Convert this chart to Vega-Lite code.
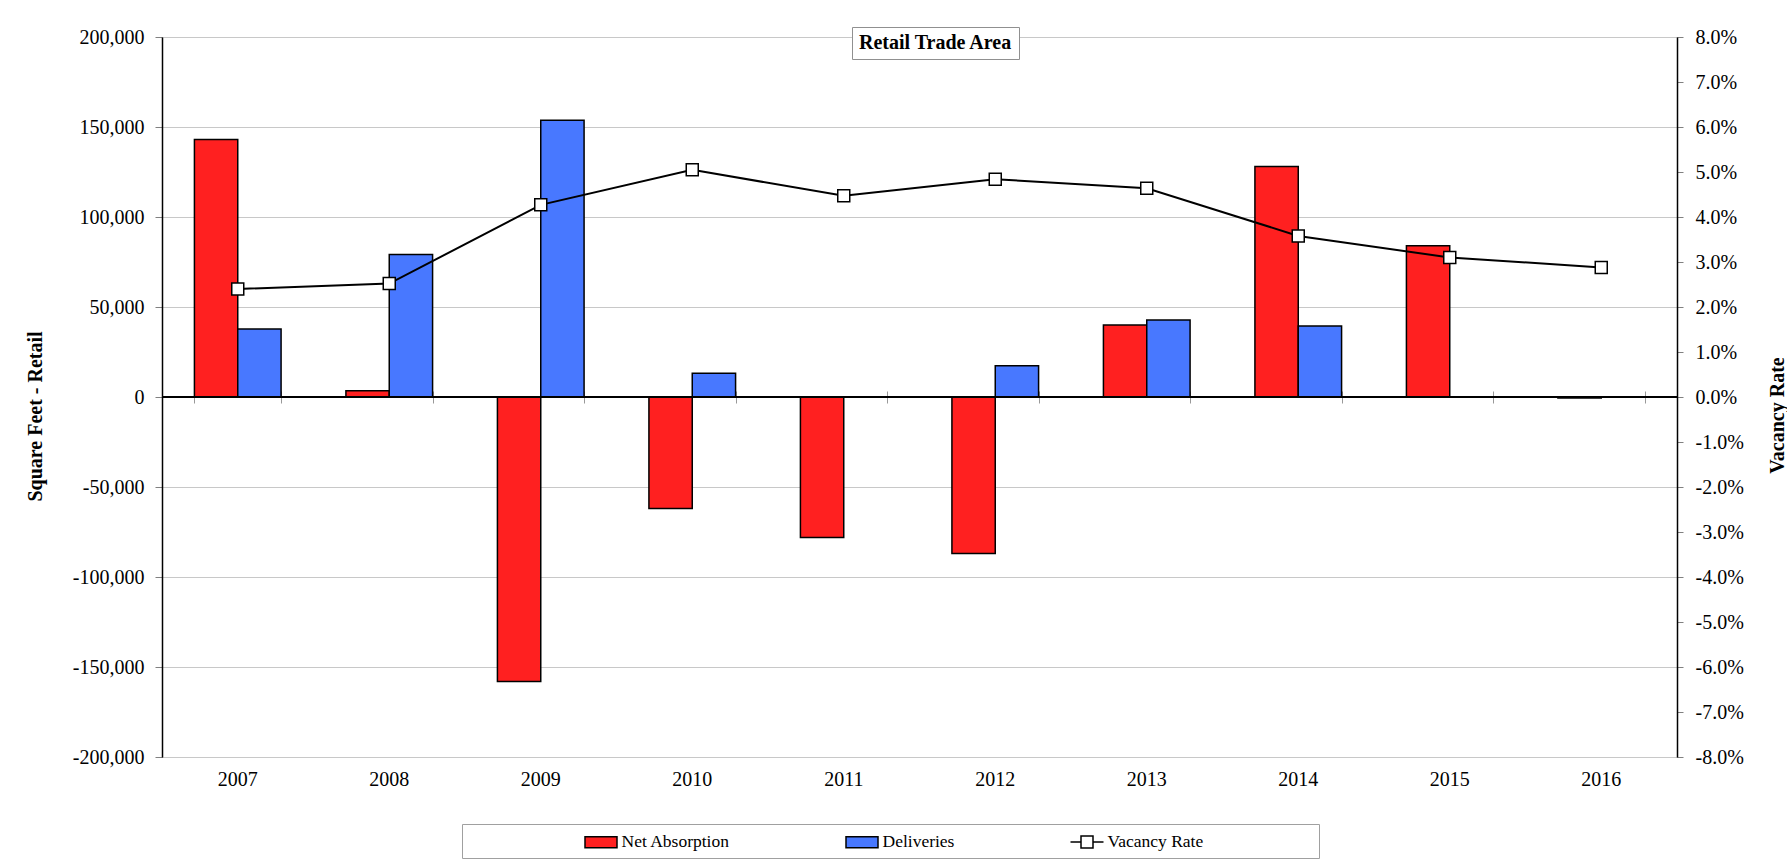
{
  "$schema": "https://vega.github.io/schema/vega-lite/v6.json",
  "width": 1515,
  "height": 720,
  "autosize": {"type": "none"},
  "padding": {"left": 162, "top": 37, "right": 110, "bottom": 111},
  "background": "white",
  "config": {
    "font": "Liberation Serif",
    "locale": {"number": {"decimal": ".", "thousands": ",", "grouping": [3], "currency": ["$", ""], "minus": "-"}},
    "view": {"stroke": "#808080", "strokeWidth": 1},
    "axis": {
      "labelFont": "Liberation Serif",
      "titleFont": "Liberation Serif",
      "labelColor": "black",
      "titleColor": "black",
      "labelFontSize": 20,
      "titleFontSize": 20,
      "titleFontWeight": "bold"
    }
  },
  "datasets": {
    "bars": [
      {"year": "2007", "series": "Net Absorption", "value": 143000},
      {"year": "2007", "series": "Deliveries", "value": 37800},
      {"year": "2008", "series": "Net Absorption", "value": 3500},
      {"year": "2008", "series": "Deliveries", "value": 79100},
      {"year": "2009", "series": "Net Absorption", "value": -158000},
      {"year": "2009", "series": "Deliveries", "value": 153800},
      {"year": "2010", "series": "Net Absorption", "value": -62000},
      {"year": "2010", "series": "Deliveries", "value": 13200},
      {"year": "2011", "series": "Net Absorption", "value": -78000},
      {"year": "2011", "series": "Deliveries", "value": 0},
      {"year": "2012", "series": "Net Absorption", "value": -87000},
      {"year": "2012", "series": "Deliveries", "value": 17300},
      {"year": "2013", "series": "Net Absorption", "value": 40000},
      {"year": "2013", "series": "Deliveries", "value": 42800},
      {"year": "2014", "series": "Net Absorption", "value": 128000},
      {"year": "2014", "series": "Deliveries", "value": 39500},
      {"year": "2015", "series": "Net Absorption", "value": 84000},
      {"year": "2015", "series": "Deliveries", "value": 0},
      {"year": "2016", "series": "Net Absorption", "value": -500},
      {"year": "2016", "series": "Deliveries", "value": 0}
    ],
    "vac": [
      {"year": "2007", "rate": 0.0240},
      {"year": "2008", "rate": 0.0252},
      {"year": "2009", "rate": 0.0427},
      {"year": "2010", "rate": 0.0505},
      {"year": "2011", "rate": 0.0447},
      {"year": "2012", "rate": 0.0484},
      {"year": "2013", "rate": 0.0464},
      {"year": "2014", "rate": 0.0358},
      {"year": "2015", "rate": 0.0310},
      {"year": "2016", "rate": 0.0288}
    ]
  },
  "resolve": {"scale": {"y": "independent"}, "axis": {"x": "independent"}},
  "layer": [
    {
      "data": {"name": "bars"},
      "layer": [
        {
          "mark": {"type": "bar", "stroke": "black", "strokeWidth": 1.5},
          "encoding": {
            "x": {
              "field": "year",
              "type": "nominal",
              "scale": {"type": "band", "paddingInner": 0.428, "paddingOuter": 0.214},
              "axis": {
                "orient": "bottom",
                "title": null,
                "labelAngle": 0,
                "domain": false,
                "ticks": false,
                "labelPadding": 12,
                "labelFontSize": 20
              }
            },
            "xOffset": {
              "field": "series",
              "type": "nominal",
              "scale": {"domain": ["Net Absorption", "Deliveries"], "paddingInner": 0, "paddingOuter": 0}
            },
            "y": {
              "field": "value",
              "type": "quantitative",
              "scale": {"domain": [-200000, 200000], "nice": false, "zero": false},
              "axis": {
                "orient": "left",
                "values": [-200000, -150000, -100000, -50000, 0, 50000, 100000, 150000, 200000],
                "format": ",.0f",
                "domainColor": "black",
                "domainWidth": 1.5,
                "tickColor": "#808080",
                "tickSize": 7,
                "labelPadding": 11,
                "grid": true,
                "gridColor": "#c8c8c8",
                "gridWidth": 1,
                "title": "Square Feet - Retail",
                "titleAngle": -90,
                "titleAlign": "center",
                "titleBaseline": "middle",
                "titleX": -127,
                "titleY": 379
              }
            },
            "color": {
              "field": "series",
              "type": "nominal",
              "scale": {
                "domain": ["Net Absorption", "Deliveries", "Vacancy Rate"],
                "range": ["#ff2020", "#4878ff", "#ffffff"]
              },
              "legend": {
                "orient": "none",
                "legendX": 300,
                "legendY": 787,
                "direction": "horizontal",
                "title": null,
                "labelFont": "Liberation Serif",
                "labelFontSize": 17.5,
                "labelColor": "black",
                "symbolOffset": 121,
                "labelOffset": 9.5,
                "labelLimit": 0,
                "columnPadding": -1,
                "padding": 7,
                "strokeColor": "#a0a0a0",
                "fillColor": "white",
                "symbolSize": 400,
                "symbolStrokeColor": "black",
                "symbolStrokeWidth": 1.5,
                "encode": {
                  "symbols": {
                    "update": {
                      "shape": {"signal": "datum.value === 'Vacancy Rate' ? 'M-1.65,0H-0.6M0.6,0H1.65M-0.6,-0.6H0.6V0.6H-0.6ZM22.2,0' : 'M-1.6,-0.55H1.6V0.55H-1.6Z'"},
                      "stroke": {"value": "black"},
                      "strokeWidth": {"value": 1.5}
                    }
                  }
                }
              }
            }
          }
        },
        {
          "mark": {"type": "rule", "color": "black", "strokeWidth": 1.5},
          "encoding": {"y": {"datum": 0, "type": "quantitative"}}
        }
      ]
    },
    {
      "data": {"name": "vac"},
      "layer": [
        {
          "mark": {"type": "line", "color": "black", "strokeWidth": 2},
          "encoding": {
            "x": {
              "field": "year",
              "type": "nominal",
              "scale": {"type": "band"},
              "axis": {
                "orient": "top",
                "offset": -366,
                "labels": false,
                "ticks": true,
                "domain": false,
                "grid": false,
                "tickBand": "extent",
                "tickSize": 12,
                "tickColor": "#999999",
                "title": null
              }
            },
            "y": {
              "field": "rate",
              "type": "quantitative",
              "scale": {"domain": [-0.08, 0.08], "nice": false, "zero": false},
              "axis": {
                "orient": "right",
                "values": [-0.08, -0.07, -0.06, -0.05, -0.04, -0.03, -0.02, -0.01, 0, 0.01, 0.02, 0.03, 0.04, 0.05, 0.06, 0.07, 0.08],
                "format": ".1%",
                "domainColor": "black",
                "domainWidth": 1.5,
                "tickColor": "#808080",
                "tickSize": 6,
                "labelPadding": 12,
                "grid": false,
                "title": "Vacancy Rate",
                "titleAngle": -90,
                "titleAlign": "center",
                "titleBaseline": "middle",
                "titleX": 100,
                "titleY": 378
              }
            }
          }
        },
        {
          "mark": {"type": "point", "filled": true, "fill": "white", "stroke": "black", "strokeWidth": 1.5, "size": 144, "opacity": 1},
          "encoding": {
            "x": {
              "field": "year",
              "type": "nominal",
              "scale": {"type": "band"},
              "axis": {
                "orient": "top",
                "offset": -366,
                "labels": false,
                "ticks": true,
                "domain": false,
                "grid": false,
                "tickBand": "extent",
                "tickSize": 12,
                "tickColor": "#999999",
                "title": null
              }
            },
            "y": {
              "field": "rate",
              "type": "quantitative",
              "scale": {"domain": [-0.08, 0.08], "nice": false, "zero": false},
              "axis": {
                "orient": "right",
                "values": [-0.08, -0.07, -0.06, -0.05, -0.04, -0.03, -0.02, -0.01, 0, 0.01, 0.02, 0.03, 0.04, 0.05, 0.06, 0.07, 0.08],
                "format": ".1%",
                "domainColor": "black",
                "domainWidth": 1.5,
                "tickColor": "#808080",
                "tickSize": 6,
                "labelPadding": 12,
                "grid": false,
                "title": "Vacancy Rate",
                "titleAngle": -90,
                "titleAlign": "center",
                "titleBaseline": "middle",
                "titleX": 100,
                "titleY": 378
              }
            },
            "shape": {
              "datum": "Retail Trade Area",
              "type": "nominal",
              "scale": {"range": ["square"]},
              "legend": {
                "orient": "none",
                "legendX": 690,
                "legendY": -10,
                "title": null,
                "symbolSize": 1,
                "symbolOpacity": 0,
                "labelOffset": -19,
                "labelFont": "Liberation Serif",
                "labelFontSize": 20,
                "labelFontWeight": "bold",
                "labelColor": "black",
                "labelLimit": 0,
                "padding": 6,
                "strokeColor": "#909090",
                "fillColor": "white"
              }
            }
          }
        }
      ]
    }
  ]
}
